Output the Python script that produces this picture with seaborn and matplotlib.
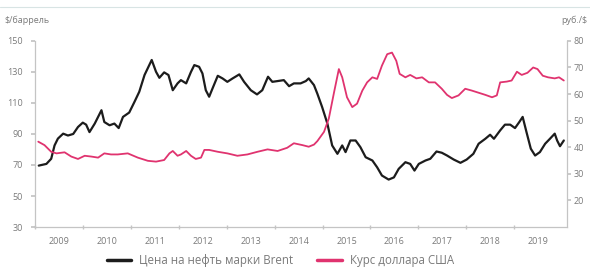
import pandas as pd
import seaborn as sns
import matplotlib.pyplot as plt
from matplotlib.lines import Line2D

# Brent, $/баррель (левая ось)
brent_t = [2008.57, 2008.73, 2008.83, 2008.90, 2008.97, 2009.08, 2009.18, 2009.29, 2009.39, 2009.49,
           2009.56, 2009.63, 2009.74, 2009.88, 2009.94, 2010.05, 2010.15, 2010.24, 2010.33, 2010.46,
           2010.57, 2010.67, 2010.78, 2010.93, 2011.02, 2011.09, 2011.19, 2011.28, 2011.37, 2011.47,
           2011.54, 2011.65, 2011.75, 2011.82, 2011.92, 2011.99, 2012.06, 2012.13, 2012.20, 2012.31,
           2012.41, 2012.51, 2012.62, 2012.76, 2012.86, 2013.00, 2013.13, 2013.24, 2013.36, 2013.45,
           2013.56, 2013.69, 2013.80, 2013.90, 2014.04, 2014.15, 2014.21, 2014.32, 2014.39, 2014.49,
           2014.60, 2014.70, 2014.81, 2014.91, 2014.98, 2015.08, 2015.19, 2015.29, 2015.40, 2015.54,
           2015.64, 2015.74, 2015.88, 2015.99, 2016.09, 2016.23, 2016.33, 2016.42, 2016.51, 2016.65,
           2016.75, 2016.88, 2016.99, 2017.10, 2017.24, 2017.38, 2017.51, 2017.65, 2017.76, 2017.90,
           2018.00, 2018.08, 2018.21, 2018.31, 2018.42, 2018.52, 2018.61, 2018.68, 2018.76, 2018.85,
           2018.94, 2019.04, 2019.15, 2019.25, 2019.35, 2019.40, 2019.46, 2019.54]
brent = [69.6, 70.7, 74.0, 82.6, 87.0, 90.2, 89.0, 90.0, 94.5, 97.3,
         96.0, 91.2, 96.7, 105.3, 97.7, 95.6, 96.7, 93.8, 101.0, 103.8,
         110.7, 117.2, 128.0, 137.7, 130.1, 126.2, 129.7, 128.0, 118.2, 122.6,
         124.7, 122.6, 130.0, 134.4, 133.3, 129.0, 118.2, 114.0, 119.3, 127.5,
         125.8, 123.6, 125.8, 128.4, 123.6, 118.2, 115.5, 118.2, 126.9, 123.6,
         124.1, 124.7, 120.8, 122.6, 122.6, 124.1, 125.8, 121.5, 116.0, 107.4,
         96.7, 82.6, 77.2, 82.6, 78.3, 85.8, 85.8, 81.5, 75.0, 72.9,
         68.5, 63.2, 60.6, 62.0, 67.5, 71.8, 70.7, 66.4, 70.7, 72.9,
         74.0, 78.7, 77.9, 76.1, 73.5, 71.4, 73.5, 77.2, 83.7, 86.9,
         89.5, 86.9, 92.3, 96.0, 96.0, 93.8, 97.7, 101.0, 91.2, 80.5,
         76.1, 78.3, 83.7, 86.9, 90.2, 85.8, 82.1, 85.8]

# Курс доллара, руб./$ (правая ось)
usd_t = [2008.56, 2008.69, 2008.83, 2008.94, 2009.11, 2009.25, 2009.39, 2009.53, 2009.67, 2009.81,
         2009.94, 2010.08, 2010.22, 2010.43, 2010.64, 2010.85, 2011.02, 2011.19, 2011.30, 2011.37,
         2011.47, 2011.54, 2011.65, 2011.75, 2011.85, 2011.96, 2012.03, 2012.13, 2012.31, 2012.51,
         2012.72, 2012.93, 2013.14, 2013.35, 2013.56, 2013.76, 2013.90, 2014.08, 2014.21, 2014.32,
         2014.39, 2014.53, 2014.63, 2014.74, 2014.84, 2014.91, 2015.01, 2015.12, 2015.22, 2015.33,
         2015.43, 2015.54, 2015.64, 2015.74, 2015.85, 2015.95, 2016.04, 2016.11, 2016.23, 2016.33,
         2016.46, 2016.58, 2016.72, 2016.85, 2016.99, 2017.10, 2017.20, 2017.34, 2017.48, 2017.62,
         2017.76, 2017.90, 2018.04, 2018.14, 2018.21, 2018.35, 2018.45, 2018.56, 2018.66, 2018.78,
         2018.90, 2018.99, 2019.10, 2019.21, 2019.35, 2019.44, 2019.54]
usd = [42.1, 40.8, 38.3, 37.7, 38.1, 36.5, 35.6, 36.8, 36.5, 36.1,
       37.7, 37.3, 37.3, 37.7, 36.1, 34.9, 34.6, 35.2, 37.7, 38.6,
       36.8, 37.3, 38.6, 36.8, 35.6, 36.1, 39.0, 39.0, 38.3, 37.7,
       36.8, 37.3, 38.3, 39.2, 38.6, 39.8, 41.5, 40.8, 40.2, 41.0,
       42.3, 45.8, 50.8, 60.7, 69.4, 66.3, 58.8, 55.1, 56.4, 61.3,
       64.4, 66.3, 65.7, 70.7, 75.0, 75.6, 72.5, 67.6, 66.3, 67.2,
       65.9, 66.3, 64.4, 64.4, 62.0, 59.7, 58.5, 59.5, 62.0, 61.3,
       60.5, 59.7, 58.8, 59.5, 64.4, 64.7, 65.1, 68.4, 67.2, 68.0,
       70.0, 69.4, 66.9, 66.3, 65.9, 66.3, 65.1]

years = list(range(2009, 2020))
label_brent = "Цена на нефть марки Brent"
label_usd = "Курс доллара США"

df_brent = pd.DataFrame({"t": brent_t, "v": brent})
df_usd = pd.DataFrame({"t": usd_t, "v": usd})

sns.set_theme(style="white")
plt.rcParams["font.family"] = ["Open Sans", "DejaVu Sans"]

black = "#1c1c1c"
pink = "#e0336f"
grey_txt = "#7a7a7a"
grey_line = "#c4c4c4"

fig = plt.figure(figsize=(5.9, 2.69), dpi=100)
ax = fig.add_axes([0.060, 0.156, 0.9005, 0.692])
ax2 = ax.twinx()

sns.lineplot(data=df_brent, x="t", y="v", ax=ax, color=black, linewidth=1.6)
sns.lineplot(data=df_usd, x="t", y="v", ax=ax2, color=pink, linewidth=1.3)

ax.set_xlim(2008.52, 2019.6)
ax.set_ylim(30, 150)
ax2.set_ylim(10, 80)
ax.set_yticks(range(30, 151, 20))
ax2.set_yticks(range(20, 81, 10))
ax.set_xticks(years)
ax.set_xticks([y + 0.5 for y in years[:-1]] + [years[0] - 0.5], minor=True)

for a in (ax, ax2):
    a.set_xlabel("")
    a.set_ylabel("")
    a.spines["top"].set_visible(False)
    for s in ("left", "right", "bottom"):
        a.spines[s].set_color(grey_line)
        a.spines[s].set_linewidth(0.8)

ax.tick_params(axis="x", which="major", length=0, pad=7, labelsize=6.5, labelcolor=grey_txt)
ax.tick_params(axis="x", which="minor", length=3, color=grey_line, direction="inout", bottom=True)
ax.tick_params(axis="y", length=3, color=grey_line, direction="out", pad=6, labelsize=6.5, labelcolor=grey_txt, left=True)
ax2.tick_params(axis="y", length=3, color=grey_line, direction="out", pad=2, labelsize=6.5, labelcolor=grey_txt, right=True)

fig.text(0.008, 0.925, "$/баррель", fontsize=6.5, color=grey_txt, ha="left", va="center")
fig.text(0.995, 0.925, "руб./$", fontsize=6.5, color=grey_txt, ha="right", va="center")
fig.add_artist(Line2D([0.0, 1.0], [0.975, 0.975], color="#d8e4e4", linewidth=0.8))

handles = [Line2D([], [], color=black, linewidth=2.5), Line2D([], [], color=pink, linewidth=2.5)]
fig.legend(handles, [label_brent, label_usd], loc="center", bbox_to_anchor=(0.475, 0.03),
           ncol=2, frameon=False, fontsize=8.3, handlelength=2.1, handletextpad=0.7,
           columnspacing=2.1, labelcolor=grey_txt)

fig.savefig("out.png", dpi=100)
